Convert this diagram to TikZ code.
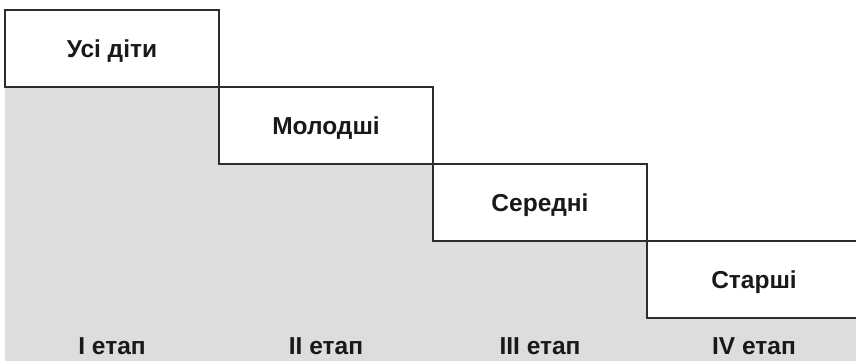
\documentclass[tikz,border=0pt]{standalone}
\usepackage{fontspec}
\setmainfont{Liberation Sans}
\usetikzlibrary{positioning,backgrounds}
\definecolor{stagegray}{RGB}{220,221,223}
\definecolor{edgegray}{RGB}{45,45,45}
\tikzset{
	agebox/.style={draw=edgegray, line width=1.2pt, fill=white, anchor=north west,
		minimum width=214pt, minimum height=77pt, inner sep=0pt, outer sep=0pt,
		text depth=0pt, text=black!90, font=\bfseries\fontsize{24.5}{28}\selectfont},
	stagelabel/.style={font=\bfseries\fontsize{24.5}{28}\selectfont, text=black!90}
}
\begin{document}
\begin{tikzpicture}[x=1pt,y=-1pt]
	\useasboundingbox (0,0) rectangle (856,361);
	\clip (0,0) rectangle (856,361);
	% steps
	\node[agebox] (all) at (5,10) {Усі діти};
	\node[agebox] (young) at (all.south east) {Молодші};
	\node[agebox] (middle) at (young.south east) {Середні};
	\node[agebox] (senior) at (middle.south east) {Старші};
	% grey ground under the stairs
	\begin{scope}[on background layer]
		\coordinate (corner) at (856,361);
		\fill[stagegray] (all.south west) -| (young.south west) -| (middle.south west)
			-| (senior.south west) -| (corner) -| cycle;
	\end{scope}
	% stage names
	\coordinate (base) at (0,346);
	\node[stagelabel] (stage1) at (all |- base) {I етап};
	\node[stagelabel] (stage2) at (young |- base) {II етап};
	\node[stagelabel] (stage3) at (middle |- base) {III етап};
	\node[stagelabel] (stage4) at (senior |- base) {IV етап};
\end{tikzpicture}
\end{document}
